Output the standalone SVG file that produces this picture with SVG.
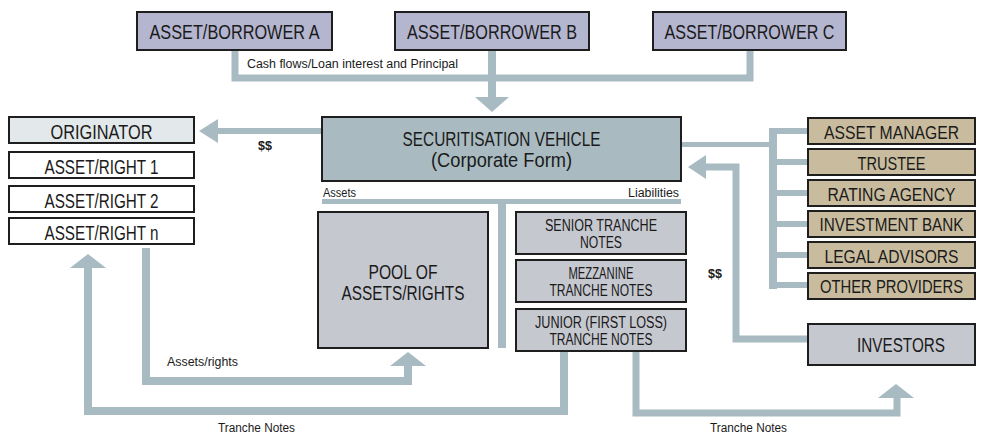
<svg xmlns="http://www.w3.org/2000/svg" width="983" height="434" viewBox="0 0 983 434">
<style>
text{font-family:"Liberation Sans",Arial,sans-serif;fill:#1a1a1a;text-anchor:middle}
.bx{stroke:#1e1e1e;stroke-width:2}
.top{fill:#b4b5cf}
.veh{fill:#a9bac1}
.orig{fill:#e3e8ea}
.wht{fill:#ffffff}
.gry{fill:#c6c8d0}
.tan{fill:#c9bc9e}
.t20{font-size:20.5px}
.tr{font-size:18.5px}
.t16{font-size:16px}
.t22{font-size:20px}
.lbl{font-size:12px;text-anchor:start}
.c{fill:none;stroke:#a8bbc2;stroke-linejoin:miter}
.ah{fill:#a8bbc2}
</style>
<g id="connectors">
<path class="c" stroke-width="7" d="M235 50V78H750V50"/>
<path class="c" stroke-width="8" d="M492 50V99"/>
<polygon class="ah" points="492,112 475,97 509,97"/>
<path class="c" stroke-width="6" d="M322 131H216"/>
<polygon class="ah" points="199,131 218,119 218,143"/>
<path class="c" stroke-width="5" d="M681 144.5H773"/>
<path class="c" stroke-width="8" d="M773 128V289"/>
<path class="c" stroke-width="6" d="M773 131H808M773 162H808M773 193H808M773 224H808M773 255H808M773 285H808"/>
<path class="c" stroke-width="7" d="M808 339H736V167H704"/>
<polygon class="ah" points="688,167 706,155 706,179"/>
<path class="c" stroke-width="8" d="M146 248V381H408V364"/>
<polygon class="ah" points="408,352 390,366 426,366"/>
<path class="c" stroke-width="8" d="M564 351V411H88V266"/>
<polygon class="ah" points="88,254 70,268 106,268"/>
<path class="c" stroke-width="7" d="M636 351V413H897V396"/>
<polygon class="ah" points="896,384 878,398 914,398"/>
<rect class="ah" x="322" y="199" width="359" height="5"/>
<rect class="ah" x="498" y="199" width="8" height="149"/>
</g>
<g id="borrower-a"><rect class="bx top" x="137" y="12" width="195" height="38"/><text class="t20" x="234.5" y="39" textLength="170" lengthAdjust="spacingAndGlyphs">ASSET/BORROWER A</text></g>
<g id="borrower-b"><rect class="bx top" x="395" y="12" width="194" height="38"/><text class="t20" x="492" y="39" textLength="170" lengthAdjust="spacingAndGlyphs">ASSET/BORROWER B</text></g>
<g id="borrower-c"><rect class="bx top" x="653" y="12" width="193" height="38"/><text class="t20" x="749.5" y="39" textLength="170" lengthAdjust="spacingAndGlyphs">ASSET/BORROWER C</text></g>
<g id="vehicle"><rect class="bx veh" x="322" y="117" width="359" height="64"/><text class="t20" x="501.5" y="146" textLength="198" lengthAdjust="spacingAndGlyphs">SECURITISATION VEHICLE</text><text class="t20" x="501.5" y="167" textLength="141" lengthAdjust="spacingAndGlyphs">(Corporate Form)</text></g>
<g id="originator"><rect class="bx orig" x="9" y="117" width="185" height="26"/><text class="t20" x="101.5" y="139" font-size="19" textLength="102" lengthAdjust="spacingAndGlyphs">ORIGINATOR</text></g>
<g id="asset-right-1"><rect class="bx wht" x="9" y="152" width="185" height="26"/><text class="t20" x="101.5" y="174" textLength="114" lengthAdjust="spacingAndGlyphs">ASSET/RIGHT 1</text></g>
<g id="asset-right-2"><rect class="bx wht" x="9" y="186" width="185" height="26"/><text class="t20" x="101.5" y="208" textLength="114" lengthAdjust="spacingAndGlyphs">ASSET/RIGHT 2</text></g>
<g id="asset-right-n"><rect class="bx wht" x="9" y="218" width="185" height="26"/><text class="t20" x="101.5" y="240" textLength="114" lengthAdjust="spacingAndGlyphs">ASSET/RIGHT n</text></g>
<g id="pool"><rect class="bx gry" x="318" y="212" width="170" height="136"/><text class="t22" x="403" y="279" textLength="69" lengthAdjust="spacingAndGlyphs">POOL OF</text><text class="t22" x="403" y="300" textLength="123" lengthAdjust="spacingAndGlyphs">ASSETS/RIGHTS</text></g>
<g id="senior"><rect class="bx gry" x="516" y="212" width="170" height="42"/><text class="t16" x="601" y="231" textLength="112" lengthAdjust="spacingAndGlyphs">SENIOR TRANCHE</text><text class="t16" x="601" y="248" textLength="42" lengthAdjust="spacingAndGlyphs">NOTES</text></g>
<g id="mezzanine"><rect class="bx gry" x="516" y="260" width="170" height="42"/><text class="t16" x="601" y="279" textLength="65" lengthAdjust="spacingAndGlyphs">MEZZANINE</text><text class="t16" x="601" y="296" textLength="103" lengthAdjust="spacingAndGlyphs">TRANCHE NOTES</text></g>
<g id="junior"><rect class="bx gry" x="516" y="309" width="170" height="42"/><text class="t16" x="601" y="328" textLength="132" lengthAdjust="spacingAndGlyphs">JUNIOR (FIRST LOSS)</text><text class="t16" x="601" y="345" textLength="103" lengthAdjust="spacingAndGlyphs">TRANCHE NOTES</text></g>
<g id="asset-manager"><rect class="bx tan" x="808" y="118" width="167" height="26"/><text class="tr" x="891.5" y="139" textLength="135" lengthAdjust="spacingAndGlyphs">ASSET MANAGER</text></g>
<g id="trustee"><rect class="bx tan" x="808" y="149" width="167" height="26"/><text class="tr" x="891.5" y="170" textLength="68" lengthAdjust="spacingAndGlyphs">TRUSTEE</text></g>
<g id="rating-agency"><rect class="bx tan" x="808" y="180" width="167" height="26"/><text class="tr" x="891.5" y="201" textLength="128" lengthAdjust="spacingAndGlyphs">RATING AGENCY</text></g>
<g id="investment-bank"><rect class="bx tan" x="808" y="211" width="167" height="26"/><text class="tr" x="891.5" y="231" font-size="16.5" textLength="144" lengthAdjust="spacingAndGlyphs">INVESTMENT BANK</text></g>
<g id="legal-advisors"><rect class="bx tan" x="808" y="242" width="167" height="26"/><text class="tr" x="891.5" y="263" textLength="134" lengthAdjust="spacingAndGlyphs">LEGAL ADVISORS</text></g>
<g id="other-providers"><rect class="bx tan" x="808" y="273" width="167" height="26"/><text class="tr" x="891.5" y="293" font-size="16.5" textLength="143" lengthAdjust="spacingAndGlyphs">OTHER PROVIDERS</text></g>
<g id="investors"><rect class="bx gry" x="808" y="324" width="167" height="41"/><text class="t22" x="901" y="352" font-size="21.5" textLength="88" lengthAdjust="spacingAndGlyphs">INVESTORS</text></g>
<g id="labels">
<text class="lbl" x="247" y="68" textLength="211" lengthAdjust="spacingAndGlyphs">Cash flows/Loan interest and Principal</text>
<text class="lbl" x="258" y="150" font-weight="bold" textLength="14" lengthAdjust="spacingAndGlyphs">$$</text>
<text class="lbl" x="323" y="197" textLength="33" lengthAdjust="spacingAndGlyphs">Assets</text>
<text class="lbl" x="628" y="197" textLength="51" lengthAdjust="spacingAndGlyphs">Liabilities</text>
<text class="lbl" x="708" y="278" font-weight="bold" textLength="14" lengthAdjust="spacingAndGlyphs">$$</text>
<text class="lbl" x="167" y="366" textLength="71" lengthAdjust="spacingAndGlyphs">Assets/rights</text>
<text class="lbl" x="218" y="432" textLength="77" lengthAdjust="spacingAndGlyphs">Tranche Notes</text>
<text class="lbl" x="710" y="432" textLength="77" lengthAdjust="spacingAndGlyphs">Tranche Notes</text>
</g>
</svg>
